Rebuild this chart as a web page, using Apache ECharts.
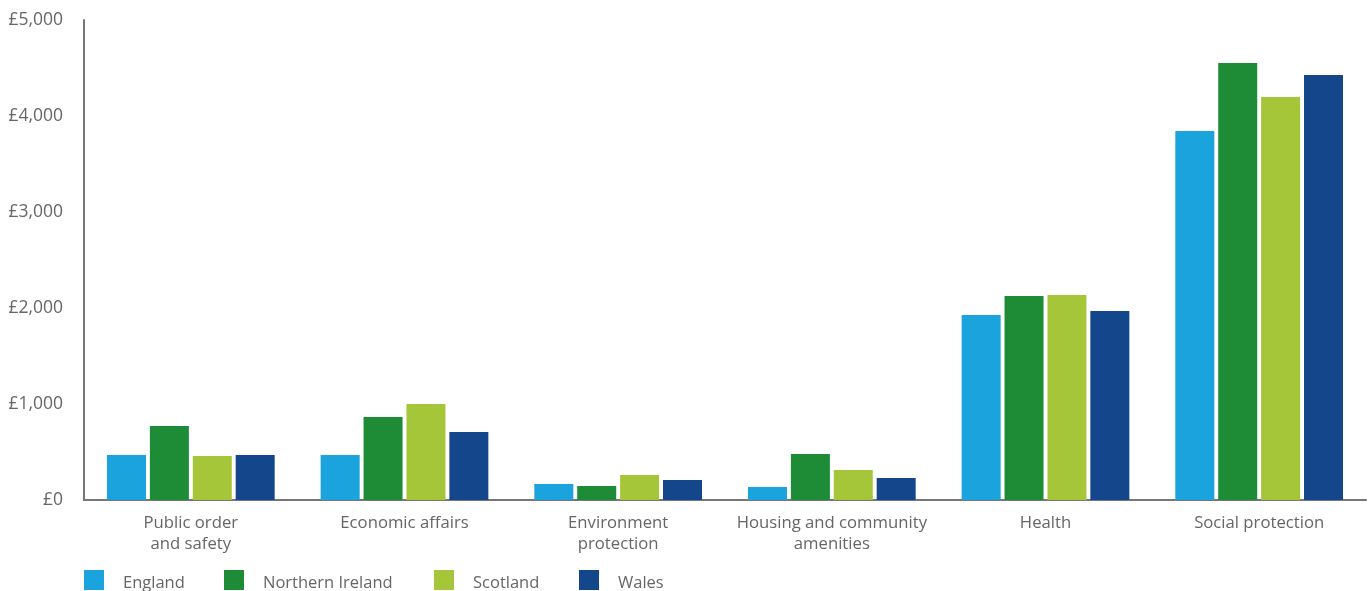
<!DOCTYPE html>
<html><head><meta charset="utf-8">
<script src="https://cdn.jsdelivr.net/npm/echarts@6/dist/echarts.min.js"></script>
<style>html,body{margin:0;padding:0;background:#fff}#c{width:1371px;height:591px}</style>
</head><body><div id="c"></div>
<script>
const categories = ["Public order\nand safety","Economic affairs","Environment\nprotection","Housing and community\namenities","Health","Social protection"];
const seriesNames = ["England","Northern Ireland","Scotland","Wales"];
const england = [469, 469, 167, 135, 1927, 3844];
const northernIreland = [771, 865, 146, 479, 2125, 4552];
const scotland = [458, 1000, 260, 313, 2135, 4198];
const wales = [469, 708, 208, 229, 1969, 4427];
const yTicks = [0, 1000, 2000, 3000, 4000, 5000];

const colors = ["#1aa3dc","#1e8c37","#a5c638","#14468b"];
const values = [england, northernIreland, scotland, wales];
const legendLefts = [84, 224, 434, 579];
const font = "'Open Sans', 'Noto Sans', sans-serif";

const chart = echarts.init(document.getElementById('c'), null, {renderer:'canvas'});
chart.setOption({
  animation:false,
  color: colors,
  grid:{left:84, right:5, top:20, bottom:91, containLabel:false},
  legend: seriesNames.map((n,i)=>({
    data:[n], left:legendLefts[i], top:570, itemWidth:20, itemHeight:20, padding:0,
    icon:'rect', selectedMode:false,
    formatter:'{t|{name}}',
    textStyle:{fontFamily:font, fontSize:16.5, color:'#666', padding:[0,0,0,14],
      rich:{t:{fontFamily:font, fontSize:16.5, color:'#666', padding:[6,0,0,0]}}}
  })),
  xAxis:{type:'category', data:categories,
    axisLine:{lineStyle:{color:'#777', width:2}}, axisTick:{show:false},
    axisLabel:{fontFamily:font, fontSize:16.7, color:'#666', margin:13, lineHeight:21, interval:0}
  },
  yAxis:{type:'value', min:yTicks[0], max:yTicks[yTicks.length-1], interval:1000,
    axisLine:{show:true, lineStyle:{color:'#777', width:2}}, axisTick:{show:false},
    splitLine:{show:false},
    axisLabel:{fontFamily:font, fontSize:17.5, color:'#666', margin:21,
      formatter:v=>'£'+v.toLocaleString('en-GB')}
  },
  series: seriesNames.map((n,i)=>({name:n, type:'bar', data:values[i], barWidth:39, barGap:'10%',
    itemStyle:{color:colors[i]}}))
});
</script></body></html>
